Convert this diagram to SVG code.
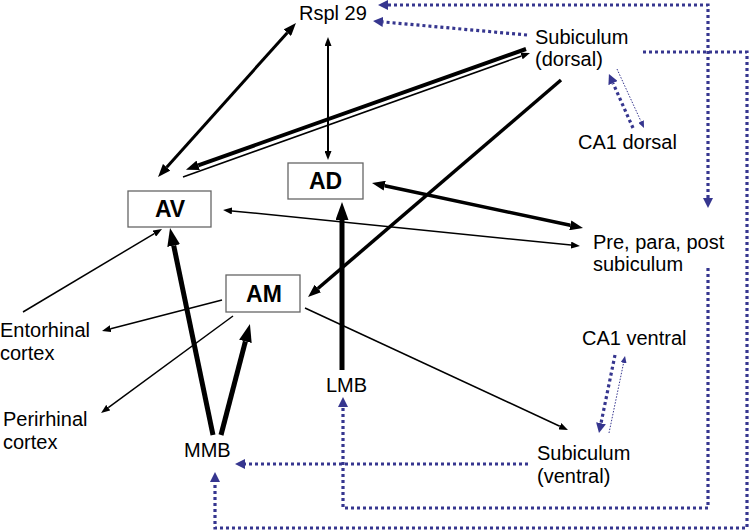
<svg xmlns="http://www.w3.org/2000/svg" width="749" height="531" viewBox="0 0 749 531">
<style>
text{font-family:"Liberation Sans",Arial,sans-serif;font-size:20px;fill:#000}
.bl{font-weight:bold;font-size:23px;text-anchor:middle}
.box{fill:#fff;stroke:#666;stroke-width:1.3}
.k{fill:none;stroke:#000}
.d{fill:none;stroke:#36368f;stroke-width:3.2;stroke-dasharray:3 3}
.dt{fill:none;stroke:#36368f;stroke-width:1;stroke-dasharray:1.5 1.5}
</style>
<defs>
<marker id="as" viewBox="0 0 9 7" markerUnits="userSpaceOnUse" markerWidth="9" markerHeight="7" refX="0" refY="3.5" orient="auto-start-reverse"><path d="M0,0 L9,3.5 L0,7 z" fill="#000"/></marker>
<marker id="am" viewBox="0 0 13 10" markerUnits="userSpaceOnUse" markerWidth="13" markerHeight="10" refX="0" refY="5" orient="auto-start-reverse"><path d="M0,0 L13,5 L0,10 z" fill="#000"/></marker>
<marker id="al" viewBox="0 0 18 13" markerUnits="userSpaceOnUse" markerWidth="18" markerHeight="13" refX="0" refY="6.5" orient="auto-start-reverse"><path d="M0,0 L18,6.5 L0,13 z" fill="#000"/></marker>
<marker id="bh" viewBox="0 0 10 10" markerUnits="userSpaceOnUse" markerWidth="10" markerHeight="10" refX="0" refY="5" orient="auto-start-reverse"><path d="M0,0 L10,5 L0,10 z" fill="#36368f"/></marker>
<marker id="bs" viewBox="0 0 7 6" markerUnits="userSpaceOnUse" markerWidth="7" markerHeight="6" refX="0" refY="3" orient="auto-start-reverse"><path d="M0,0 L7,3 L0,6 z" fill="#36368f"/></marker>
</defs>
<g id="connectors">
<path class="k" stroke-width="3" d="M166.7,167.3 L287.3,32.7" marker-start="url(#am)" marker-end="url(#am)"/>
<path class="k" stroke-width="2" d="M328,46 L328,151" marker-start="url(#as)" marker-end="url(#as)"/>
<path class="k" stroke-width="4" d="M526,49 L198.2,165.3" marker-end="url(#am)"/>
<path class="k" stroke-width="1.5" d="M183,177 L521.5,56" marker-end="url(#as)"/>
<path class="k" stroke-width="3.5" d="M561,80 L317.9,288.5" marker-end="url(#am)"/>
<path class="k" stroke-width="3.5" d="M384.7,185.7 L570.3,225.3" marker-start="url(#am)" marker-end="url(#am)"/>
<path class="k" stroke-width="1.5" d="M232,210.9 L571,245.1" marker-start="url(#as)" marker-end="url(#as)"/>
<path class="k" stroke-width="1.5" d="M23,312 L154.3,233.6" marker-end="url(#as)"/>
<path class="k" stroke-width="1.5" d="M222,300 L110.7,328.7" marker-end="url(#as)"/>
<path class="k" stroke-width="1.5" d="M233,316 L108.3,407.7" marker-end="url(#as)"/>
<path class="k" stroke-width="5" d="M213,435 L173.7,245.6" marker-end="url(#al)"/>
<path class="k" stroke-width="5" d="M221,435 L245.4,341.4" marker-end="url(#al)"/>
<path class="k" stroke-width="5" d="M342,370 L342,220" marker-end="url(#al)"/>
<path class="k" stroke-width="1.5" d="M305,308 L559.8,426.2" marker-end="url(#as)"/>
<path class="d" d="M708,198 V5 H388" marker-start="url(#bh)" marker-end="url(#bh)"/>
<path class="d" d="M527,35 L383,21.9" marker-end="url(#bh)"/>
<path class="d" d="M643,52 H747 V528 H215 V482" marker-end="url(#bh)"/>
<path class="d" d="M708,268 V508 H343 V407" marker-end="url(#bh)"/>
<path class="d" d="M528,464 H245" marker-end="url(#bh)"/>
<path class="d" d="M633,128 L613,83.1" marker-end="url(#bh)"/>
<path class="dt" d="M617,69 L641.1,121.6" marker-end="url(#bs)"/>
<path class="d" d="M615,355 L601,423.2" marker-end="url(#bh)"/>
<path class="dt" d="M609,433 L623.6,362.9" marker-end="url(#bs)"/>
</g>
<g id="AV"><rect class="box" x="128" y="191" width="83" height="36"/><text class="bl" x="170" y="217">AV</text></g>
<g id="AD"><rect class="box" x="288" y="163" width="75" height="36"/><text class="bl" x="325.5" y="189">AD</text></g>
<g id="AM"><rect class="box" x="226" y="275" width="74" height="37"/><text class="bl" x="264" y="302">AM</text></g>
<g id="Rspl29"><text x="299" y="20">Rspl 29</text></g>
<g id="SubDorsal"><text x="535" y="44">Subiculum</text><text x="535" y="66">(dorsal)</text></g>
<g id="CA1Dorsal"><text x="578" y="149">CA1 dorsal</text></g>
<g id="PreParaPost"><text x="593" y="249">Pre, para, post</text><text x="593" y="271">subiculum</text></g>
<g id="CA1Ventral"><text x="582" y="345">CA1 ventral</text></g>
<g id="SubVentral"><text x="537" y="460">Subiculum</text><text x="537" y="483">(ventral)</text></g>
<g id="LMB"><text x="326" y="392">LMB</text></g>
<g id="MMB"><text x="184" y="457">MMB</text></g>
<g id="Entorhinal"><text x="0" y="337">Entorhinal</text><text x="0" y="360">cortex</text></g>
<g id="Perirhinal"><text x="3" y="426">Perirhinal</text><text x="3" y="449">cortex</text></g>
</svg>
